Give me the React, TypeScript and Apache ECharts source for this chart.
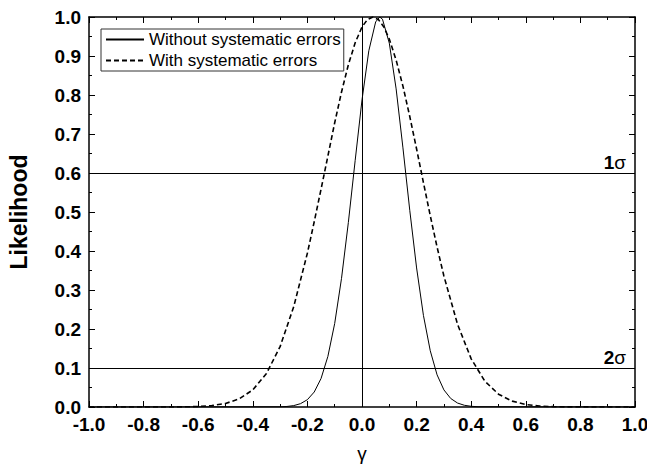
import React, { useEffect, useRef } from "react";
import * as echarts from "echarts";

const FONT = "Liberation Sans, Arial, sans-serif";

// Likelihood without systematic errors
const solidX = [-1.0, -0.3, -0.275, -0.25, -0.225, -0.2, -0.175, -0.15, -0.125, -0.1, -0.075, -0.05, -0.025, 0.0, 0.025, 0.05, 0.065, 0.075, 0.1, 0.125, 0.15, 0.175, 0.2, 0.225, 0.25, 0.275, 0.3, 0.325, 0.35, 0.375, 0.4, 0.425, 1.0];
const solidY = [0, 0.0005, 0.0014, 0.0036, 0.0086, 0.0188, 0.0384, 0.0731, 0.1297, 0.2142, 0.3299, 0.4731, 0.6323, 0.7874, 0.9135, 0.9874, 1.0, 0.9944, 0.933, 0.8157, 0.6644, 0.5042, 0.3565, 0.2349, 0.1442, 0.0825, 0.0439, 0.0218, 0.0101, 0.0044, 0.0018, 0.0007, 0];

// Likelihood with systematic errors
const dashedX = [-1.0, -0.7, -0.65, -0.6, -0.55, -0.5, -0.45, -0.4, -0.35, -0.3, -0.25, -0.2, -0.175, -0.15, -0.125, -0.1, -0.075, -0.05, -0.025, 0.0, 0.02, 0.04, 0.06, 0.08, 0.1, 0.125, 0.15, 0.175, 0.2, 0.225, 0.25, 0.275, 0.3, 0.35, 0.4, 0.45, 0.5, 0.55, 0.6, 0.65, 0.7, 0.75, 1.0];
const dashedY = [0, 0.0001, 0.0005, 0.0013, 0.0036, 0.009, 0.0207, 0.0439, 0.0859, 0.1548, 0.2573, 0.3946, 0.4751, 0.5584, 0.6432, 0.7288, 0.8077, 0.8775, 0.9339, 0.9745, 0.9935, 1.0, 0.9935, 0.9745, 0.9436, 0.8897, 0.8226, 0.7448, 0.6615, 0.5755, 0.4907, 0.4101, 0.3358, 0.212, 0.1234, 0.0663, 0.0329, 0.015, 0.0063, 0.0025, 0.0009, 0.0003, 0];

const seriesNames = ["Without systematic errors", "With systematic errors"];
const sigmaLevels = [0.6, 0.1];
const sigmaLabels = ["1", "2"];
const verticalAt = 0;

export default function App() {
  const ref = useRef<HTMLDivElement>(null);
  useEffect(() => {
    const chart = echarts.init(ref.current!, null, { renderer: "svg" });
    const fmt = (v: number) => (Math.abs(v) < 1e-9 ? "0.0" : v.toFixed(1));
    const baseX = {
      type: "value",
      min: -1,
      max: 1,
      interval: 0.2,
      axisLine: { onZero: false, lineStyle: { color: "#000", width: 1.5 } },
      axisTick: { inside: true, length: 6, lineStyle: { color: "#000", width: 1 } },
      minorTick: { show: true, splitNumber: 2, length: 3, lineStyle: { color: "#000", width: 1 } },
      splitLine: { show: false },
      minorSplitLine: { show: false },
    };
    const baseY = {
      type: "value",
      min: 0,
      max: 1,
      interval: 0.1,
      axisLine: { show: true, onZero: false, lineStyle: { color: "#000", width: 1.5 } },
      axisTick: { show: true, inside: true, length: 6, lineStyle: { color: "#000", width: 1 } },
      minorTick: { show: true, splitNumber: 2, length: 3, lineStyle: { color: "#000", width: 1 } },
      splitLine: { show: false },
      minorSplitLine: { show: false },
    };
    chart.setOption({
      animation: false,
      backgroundColor: "#fff",
      textStyle: { fontFamily: FONT },
      grid: { left: 89, right: 12, top: 17, bottom: 61, containLabel: false, outerBoundsMode: "none" },
      legend: {
        orient: "vertical",
        left: 101,
        top: 29,
        data: seriesNames,
        itemWidth: 38,
        itemHeight: 14,
        itemGap: 4,
        padding: [2, 3, 2, 4],
        borderColor: "#333",
        borderWidth: 1,
        itemStyle: { opacity: 0 },
        textStyle: { fontSize: 17, color: "#000", fontFamily: FONT },
      },
      xAxis: [
        {
          ...baseX,
          position: "bottom",
          axisLabel: { formatter: fmt, fontWeight: "bold", fontSize: 19, color: "#000", margin: 8, fontFamily: FONT },
          name: "γ",
          nameLocation: "middle",
          nameGap: 37,
          nameTextStyle: { fontSize: 19, color: "#000", fontFamily: FONT },
        },
        { ...baseX, position: "top", axisLabel: { show: false } },
      ],
      yAxis: [
        {
          ...baseY,
          position: "left",
          axisLabel: { formatter: fmt, fontWeight: "bold", fontSize: 19, color: "#000", margin: 8, fontFamily: FONT },
          name: "Likelihood",
          nameLocation: "middle",
          nameGap: 59,
          nameTextStyle: { fontSize: 23, fontWeight: "bold", color: "#000", fontFamily: FONT },
        },
        { ...baseY, position: "right", axisLabel: { show: false } },
      ],
      series: [
        {
          name: seriesNames[0],
          type: "line",
          xAxisIndex: 0,
          yAxisIndex: 0,
          data: solidX.map((x, i) => [x, solidY[i]]),
          showSymbol: false,
          symbol: "none",
          smooth: false,
          lineStyle: { color: "#000", width: 1, type: "solid" },
          itemStyle: { color: "#000" },
          z: 3,
          markLine: {
            silent: true,
            symbol: ["none", "none"],
            lineStyle: { color: "#000", width: 1, type: "solid" },
            data: [
              ...sigmaLevels.map((v, i) => ({
                yAxis: v,
                label: {
                  show: true,
                  position: "insideEndTop",
                  distance: [9, 1],
                  formatter: `{a|${sigmaLabels[i]}}{b|σ}`,
                  rich: {
                    a: { fontSize: 19, fontWeight: "bold", color: "#000", fontFamily: FONT },
                    b: { fontSize: 19, color: "#000", fontFamily: FONT },
                  },
                },
              })),
              { xAxis: verticalAt, label: { show: false } },
            ],
          },
        },
        {
          name: seriesNames[1],
          type: "line",
          xAxisIndex: 0,
          yAxisIndex: 0,
          data: dashedX.map((x, i) => [x, dashedY[i]]),
          showSymbol: false,
          symbol: "none",
          smooth: false,
          lineStyle: { color: "#000", width: 1.6, type: [5, 3] },
          itemStyle: { color: "#000" },
          z: 2,
        },
      ],
    });
    return () => chart.dispose();
  }, []);
  return <div ref={ref} style={{ position: "fixed", left: 0, top: 0, width: 647, height: 468 }} />;
}
